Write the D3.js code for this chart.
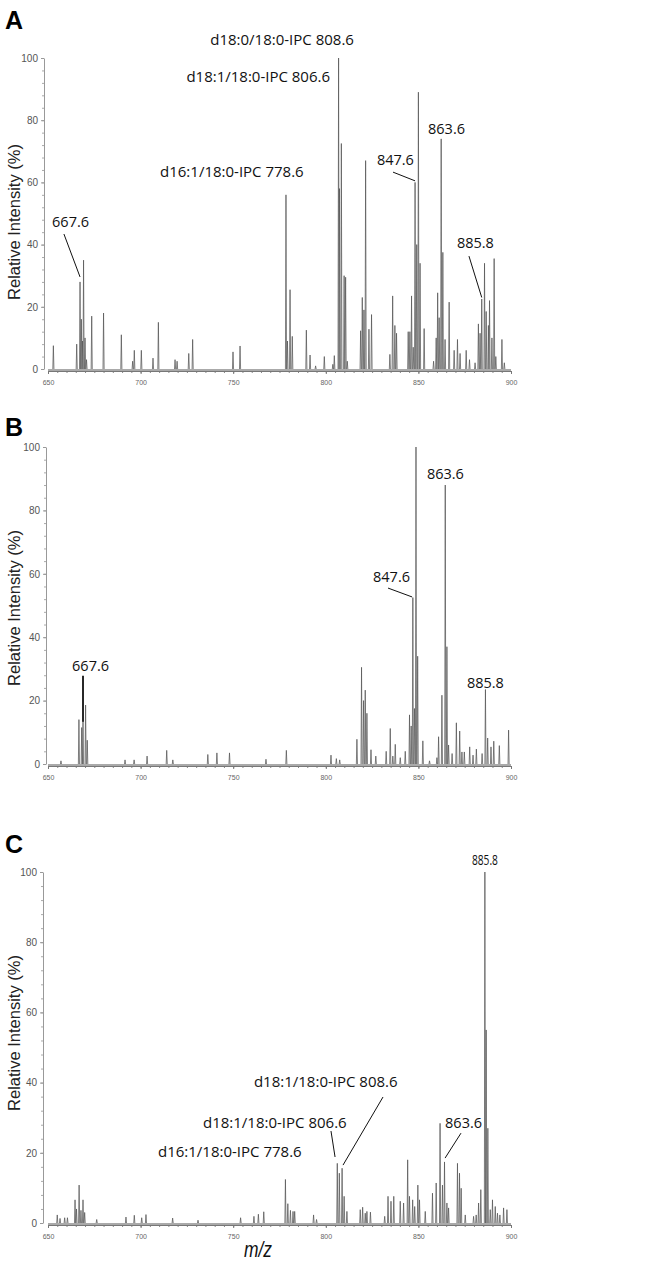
<!DOCTYPE html>
<html>
<head>
<meta charset="utf-8">
<script src="https://cdn.jsdelivr.net/npm/d3@7"></script>
<style>
  body { margin: 0; background: #fff; }
  svg { display: block; }
</style>
</head>
<body>
<svg width="663" height="1262"></svg>
<script>
// ---- data (m/z, relative intensity %) ----
var mzA = [652.9, 665.5, 667.3, 668.0, 668.6, 669.2, 670.0, 670.8, 673.6, 680.0, 689.6, 695.7, 696.6, 700.4, 706.7, 709.6, 718.6, 719.7, 726.0, 728.1,
  749.9, 753.7, 778.5, 779.3, 780.7, 781.9, 789.5, 791.5, 794.5, 799.2, 803.8, 804.6, 806.9, 807.4, 808.4, 809.9, 810.7, 811.6,
  818.8, 819.7, 820.6, 821.5, 823.3, 824.7, 834.6, 836.1, 837.3, 838.2, 844.5, 845.4, 846.3, 847.2, 848.2, 849.1, 850.0, 850.9,
  853.1, 858.2, 859.6, 860.4, 861.2, 862.3, 863.2, 864.4, 866.6, 869.3, 871.1, 872.5, 875.8, 877.6, 880.6, 882.4, 883.3, 884.2,
  885.7, 886.6, 887.8, 888.4, 889.7, 890.9, 891.8, 895.1, 896.4];
var intA = [7.5, 8, 28, 16, 9, 35, 10, 3, 17, 18, 11, 2.5, 6, 6, 3.5, 15, 3, 2.5, 5, 9.5,
  5.5, 7.4, 56, 9, 25.5, 10.5, 12.5, 4.5, 1, 4, 1.5, 4.3, 100, 58, 72.5, 30, 29.5, 2.5,
  12.3, 23, 19, 67, 12.8, 17.5, 4.7, 23.5, 14, 11.5, 12, 12, 23.5, 7, 60, 40, 89, 34,
  13, 2.5, 10, 24.5, 16.5, 74, 37.5, 9.5, 21.5, 6, 9.5, 5, 6, 3, 2, 14.5, 11.5, 22.5,
  34, 18.5, 14, 22, 10, 35.5, 4, 9.5, 2];

var mzB = [657.0, 666.7, 668.2, 668.9, 670.3, 671.2, 691.6, 696.5, 703.5, 714.1, 717.4, 736.3, 741.2, 748.0, 767.7, 778.7, 802.8, 805.7, 807.5,
  816.8, 819.3, 820.4, 821.3, 822.2, 824.4, 827.0, 832.6, 834.8, 836.2, 837.5, 840.2, 842.9, 845.2, 846.1, 847.0, 847.9, 848.7, 849.6,
  852.4, 856.0, 860.0, 860.9, 862.7, 864.5, 865.4, 866.3, 868.2, 870.5, 872.3, 873.5, 874.8, 877.7, 879.5, 881.3, 884.4, 886.2,
  887.4, 889.2, 890.7, 893.7, 898.7];
var intB = [1, 14, 11.5, 13.5, 18.6, 7.5, 1.3, 1.3, 2.5, 4.3, 1.3, 3, 3.5, 3.5, 1.5, 4.3, 2.8, 1.7, 1.3,
  7.8, 30.5, 20, 23.3, 16, 4.5, 2.5, 4, 11.2, 2.5, 6.2, 2, 4, 15.5, 12, 52.5, 17.5, 100, 34,
  7.3, 1, 2, 8.6, 21.7, 88, 37, 6, 3.3, 13, 10.4, 3.8, 3.8, 5.4, 2.8, 4.7, 3.3, 23.5,
  8.2, 5.4, 7.2, 5.8, 10.7];

var mzC = [655.0, 656.5, 659.0, 660.5, 664.6, 665.4, 666.8, 667.8, 668.9, 669.8, 676.3, 692.1, 696.6, 700.6, 702.9, 717.3, 731.0,
  754.0, 761.2, 763.6, 766.5, 778.2, 779.5, 780.9, 782.3, 783.2, 793.4, 795.0, 806.2, 807.3, 808.8, 809.9, 811.4,
  818.6, 819.9, 821.3, 822.2, 824.1, 831.8, 833.6, 835.2, 836.7, 840.2, 842.0, 844.2, 845.2, 846.9, 848.0, 849.7, 850.6,
  853.7, 857.6, 859.6, 861.7, 863.0, 864.1, 865.4, 866.3, 871.1, 872.2, 873.1, 875.3, 879.8, 881.2, 882.5, 883.7,
  885.9, 886.6, 887.5, 888.8, 890.0, 891.5, 892.7, 894.0, 896.0, 897.8];
var intC = [2.3, 1.3, 1.5, 1.5, 6.6, 4, 10.8, 3.6, 6.6, 3, 1, 1.7, 2.2, 1.5, 2.4, 1.4, 0.8,
  1.5, 1.9, 2.5, 3.2, 12.4, 5.5, 3.6, 3.3, 3.3, 2.3, 1, 17, 14.2, 15.6, 7.6, 3.3,
  3.8, 4.5, 2.8, 3.3, 3.1, 1.9, 7.6, 6.2, 7.6, 6.2, 5.7, 18, 7.6, 6.6, 4.7, 10.8, 6.6,
  3.3, 8.5, 11.4, 28.4, 10.8, 17.4, 5.7, 4.3, 17, 14.2, 9.9, 2.3, 1.9, 2.3, 5.7, 9.5,
  100, 55, 27, 3.8, 6.6, 4.7, 2.8, 2.3, 4.3, 3.8];

var xTicks = [650, 700, 750, 800, 850, 900];
var yTicks = [0, 20, 40, 60, 80, 100];

// annotations: text placed in data units (m/z, %)
var labelsA = [
  {t: "d18:0/18:0-IPC 808.6", mz: 776.4, v: 104.2, anchor: "middle", big: true},
  {t: "d18:1/18:0-IPC 806.6", mz: 802.3, v: 92.3, anchor: "end", big: true},
  {t: "d16:1/18:0-IPC 778.6", mz: 710.5, v: 61.7, anchor: "start", big: true},
  {t: "847.6", mz: 827.6, v: 65.6}, {t: "863.6", mz: 855.2, v: 75.6},
  {t: "667.6", mz: 652.2, v: 45.7}, {t: "885.8", mz: 870.8, v: 38.9}
];
var leadersA = [[836.3, 63.3, 848.2, 60.5], [658.6, 43.4, 667.3, 29.6], [877.3, 36.3, 884.2, 23.0]];

var labelsB = [
  {t: "863.6", mz: 854.6, v: 89.9}, {t: "847.6", mz: 825.5, v: 57.4},
  {t: "667.6", mz: 663.0, v: 29.3}, {t: "885.8", mz: 876.2, v: 24.0}
];
var leadersB = [[833.6, 55.5, 846.6, 52.7], [668.9, 27.8, 668.9, 13.3, 1.8]];

var labelsC = [
  {t: "885.8", mz: 878.9, v: 102, narrow: true},
  {t: "d18:1/18:0-IPC  808.6", mz: 761.2, v: 38.7, anchor: "start", big: true},
  {t: "d18:1/18:0-IPC  806.6", mz: 733.7, v: 27.1, anchor: "start", big: true},
  {t: "d16:1/18:0-IPC 778.6", mz: 709.4, v: 18.8, anchor: "start", big: true},
  {t: "863.6", mz: 864.4, v: 27.1}
];
var leadersC = [[830.9, 35.9, 809.3, 16.5], [802.8, 26.2, 805.0, 18.8], [873.0, 25.6, 864.4, 18.5]];

var svg = d3.select("svg");
svg.append("rect").attr("width", 663).attr("height", 1262).attr("fill", "#fff");

var x = d3.scaleLinear().domain([650, 900]).range([48, 511]);

var panels = [
  {key: "A", mz: mzA, val: intA, labels: labelsA, leaders: leadersA, top: 58, bottom: 369, axisX: 44, letterY: 29, titleY: 222},
  {key: "B", mz: mzB, val: intB, labels: labelsB, leaders: leadersB, top: 447, bottom: 764, axisX: 46, letterY: 436, titleY: 608},
  {key: "C", mz: mzC, val: intC, labels: labelsC, leaders: leadersC, top: 872, bottom: 1223, axisX: 43, letterY: 853, titleY: 1033}
];

var narrowFont = "'Liberation Sans Narrow', 'Arial Narrow', 'Liberation Sans', sans-serif";
var labelFont = "'Open Sans', 'Noto Sans', sans-serif";

panels.forEach(function(p) {
  var y = d3.scaleLinear().domain([0, 100]).range([p.bottom, p.top]);
  var g = svg.append("g");

  // panel letter
  svg.append("text")
    .attr("x", 5).attr("y", p.letterY)
    .attr("font-family", "'Liberation Sans', Arial, sans-serif")
    .attr("font-weight", "bold").attr("font-size", 25)
    .attr("fill", "#000").text(p.key);

  // y title
  svg.append("text")
    .attr("transform", "translate(20," + p.titleY + ") rotate(-90)")
    .attr("text-anchor", "middle")
    .attr("font-family", "'Liberation Sans', Arial, sans-serif")
    .attr("font-size", 16.5).attr("fill", "#222")
    .text("Relative Intensity (%)");

  // y axis: minor ticks every 4, labels every 20
  var yMinor = g.append("g").attr("transform", "translate(" + p.axisX + ",0)")
    .call(d3.axisLeft(y).tickValues(d3.range(0, 101, 4)).tickSize(2).tickFormat(""));
  yMinor.select(".domain").remove();
  yMinor.selectAll("line").attr("stroke", "#aaa");

  var yAxis = g.append("g").attr("transform", "translate(" + p.axisX + ",0)")
    .call(d3.axisLeft(y).tickValues(yTicks).tickSize(3).tickSizeOuter(0).tickPadding(3));
  yAxis.select(".domain").attr("stroke", "#999");
  yAxis.selectAll("line").attr("stroke", "#999");
  yAxis.selectAll("text").attr("font-family", narrowFont).attr("font-size", 10).attr("fill", "#555");

  // x axis
  var xMinor = g.append("g").attr("transform", "translate(0," + (p.bottom + 2) + ")")
    .call(d3.axisBottom(x).tickValues(d3.range(650, 901, 5)).tickSize(2).tickFormat(""));
  xMinor.select(".domain").remove();
  xMinor.selectAll("line").attr("stroke", "#888");

  var xAxis = g.append("g").attr("transform", "translate(0," + (p.bottom + 2) + ")")
    .call(d3.axisBottom(x).tickValues(xTicks).tickSize(3).tickSizeOuter(0).tickPadding(6));
  xAxis.select(".domain").attr("stroke", "#777");
  xAxis.selectAll("line").attr("stroke", "#777");
  xAxis.selectAll("text").attr("font-family", narrowFont).attr("font-size", 7).attr("fill", "#666");

  // baseline of the trace
  g.append("line")
    .attr("x1", x(650)).attr("x2", x(900))
    .attr("y1", y(0) + 1).attr("y2", y(0) + 1)
    .attr("stroke", "#555").attr("stroke-width", 1);

  // peaks
  var peak = d3.line().x(function(d) { return x(d[0]); }).y(function(d) { return y(d[1]); });
  var hw = 0.3;
  g.append("g").selectAll("path")
    .data(p.mz.map(function(m, i) { return [m, p.val[i]]; }))
    .join("path")
    .attr("d", function(d) { return peak([[d[0] - hw, 0], [d[0], d[1]], [d[0] + hw, 0]]); })
    .attr("fill", "none")
    .attr("stroke", "#555")
    .attr("stroke-width", 0.75);

  // leaders
  g.append("g").selectAll("line")
    .data(p.leaders)
    .join("line")
    .attr("x1", function(d) { return x(d[0]); })
    .attr("y1", function(d) { return y(d[1]); })
    .attr("x2", function(d) { return x(d[2]); })
    .attr("y2", function(d) { return y(d[3]); })
    .attr("stroke", "#111")
    .attr("stroke-width", function(d) { return d[4] || 1; });

  // labels
  g.append("g").selectAll("text")
    .data(p.labels)
    .join("text")
    .attr("x", function(d) { return x(d.mz); })
    .attr("y", function(d) { return y(d.v); })
    .attr("text-anchor", function(d) { return d.anchor || "start"; })
    .attr("font-family", labelFont)
    .attr("font-size", function(d) { return d.big ? 15 : 14.5; })
    .attr("fill", "#111")
    .each(function(d) {
      if (d.narrow) d3.select(this).attr("textLength", 26).attr("lengthAdjust", "spacingAndGlyphs");
    })
    .text(function(d) { return d.t; });
});

// x title
svg.append("text")
  .attr("x", 258).attr("y", 1257)
  .attr("text-anchor", "middle")
  .attr("font-family", "'Liberation Sans', Arial, sans-serif")
  .attr("font-style", "italic").attr("font-size", 22)
  .attr("textLength", 28).attr("lengthAdjust", "spacingAndGlyphs")
  .attr("fill", "#111")
  .text("m/z");
</script>
</body>
</html>
